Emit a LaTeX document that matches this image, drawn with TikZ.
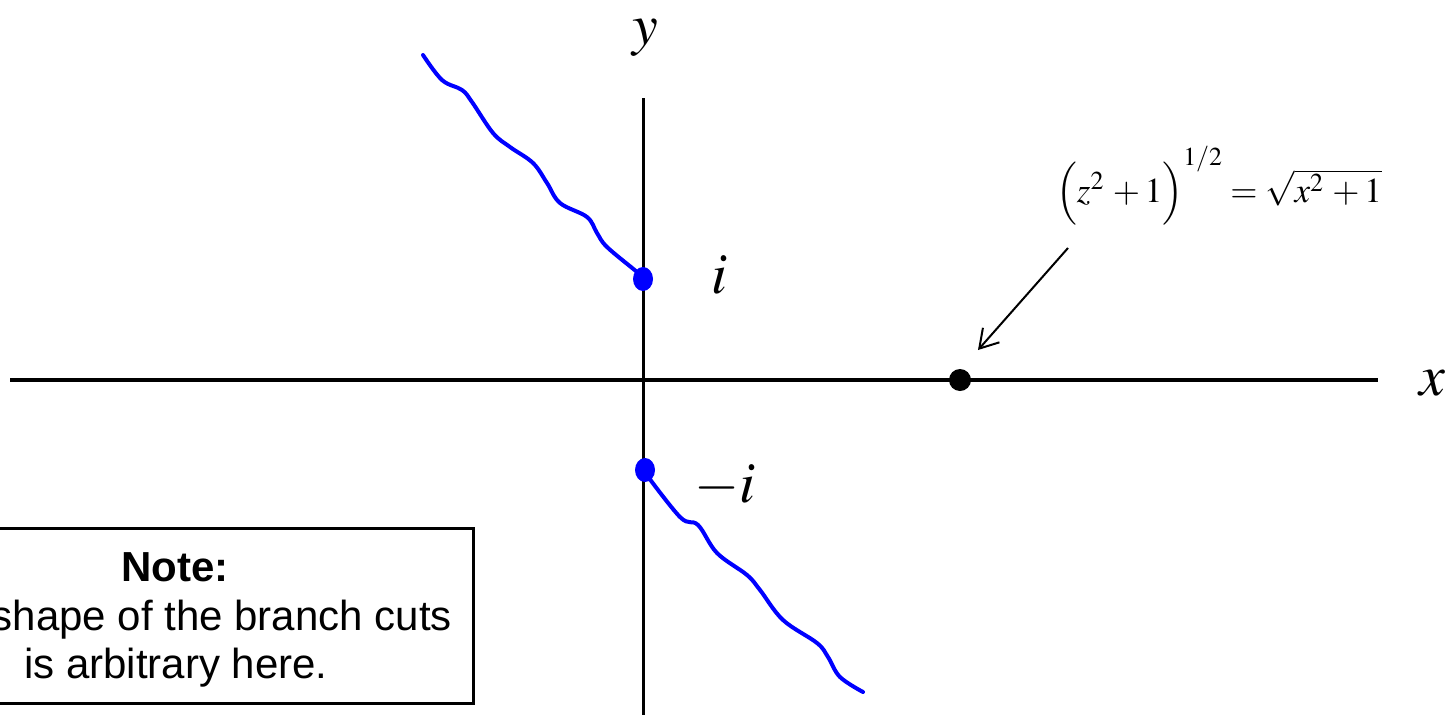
\documentclass[tikz,border=0pt]{standalone}
\usepackage{mathptmx}
\usepackage{fontspec}
\newfontfamily\arialf{Liberation Sans}
\usetikzlibrary{arrows.meta,shapes.geometric}
\tikzset{
  axis/.style={draw=black, line width=3.5pt},
  cut/.style={draw=blue, line width=4pt, line cap=round, line join=round},
  bdot/.style={fill=blue, draw=none, ellipse, minimum width=20pt, minimum height=24pt, inner sep=0pt},
  kdot/.style={fill=black, draw=none, circle, minimum size=22pt, inner sep=0pt},
  mlabel/.style={inner sep=0pt, anchor=base, font=\fontsize{58}{70}\selectfont},
  pointer/.style={draw=black, line width=2pt, -{Straight Barb[length=18pt,width=22pt]}},
  notebox/.style={draw=black, line width=3pt},
  notetext/.style={inner sep=0pt, anchor=base, font=\arialf\fontsize{42}{48.5}\selectfont}
}
\begin{document}
\begin{tikzpicture}[x=1pt,y=-1pt]
\useasboundingbox (0,0) rectangle (1449,715);
% axes
\coordinate (xl) at (10,380);
\coordinate (xr) at (1378,380);
\coordinate (yt) at (643,98);
\coordinate (yb) at (643,720);
\draw[axis] (xl) -- (xr);
\draw[axis, line width=3pt] (yb) -- (yt);
% labels
\node[mlabel] (ylab) at (645,44) {$y$};
\node[mlabel] (xlab) at (1432,395) {$x$};
\node[mlabel] (ilab) at (720,293) {$i$};
\node[mlabel] (milab) at (725,502) {$-i$};
% branch cuts
\draw[cut] plot[smooth, tension=0.6] coordinates {(643,278) (637,272) (607,247) (597,233) (587,217) (560,203) (547,183) (533,163) (510,147) (493,133) (472,102) (462,90) (442,80) (423,55)};
\draw[cut] plot[smooth, tension=0.6] coordinates {(643,470) (680,517) (698,525) (717,553) (747,575) (760,590) (783,620) (817,643) (828,657) (840,677) (863,692)};
\node[bdot] (ip) at (643,279) {};
\node[bdot] (im) at (645,470) {};
% point on real axis
\node[kdot] (pt) at (960,380) {};
\coordinate (astart) at (1068,248);
\coordinate (aend) at (978,350);
\draw[pointer] (astart) -- (aend);
\node[inner sep=0pt, anchor=base, font=\fontsize{35}{42}\selectfont] (formula) at (1219,202)
  {$\Bigl(z^2\,+1\Bigr)^{\raisebox{6pt}{$\scriptstyle 1/2$}}=\sqrt{x^2\,+1}$};
% note box
\draw[notebox] (-125,528) rectangle (473,703);
\node[notetext] (note1) at (175,581) {\textbf{Note:}};
\node[notetext, anchor=base east] (note2) at (452,630) {shape of the branch cuts};
\node[notetext] (note3) at (176,678) {is arbitrary here.};
\end{tikzpicture}
\end{document}
